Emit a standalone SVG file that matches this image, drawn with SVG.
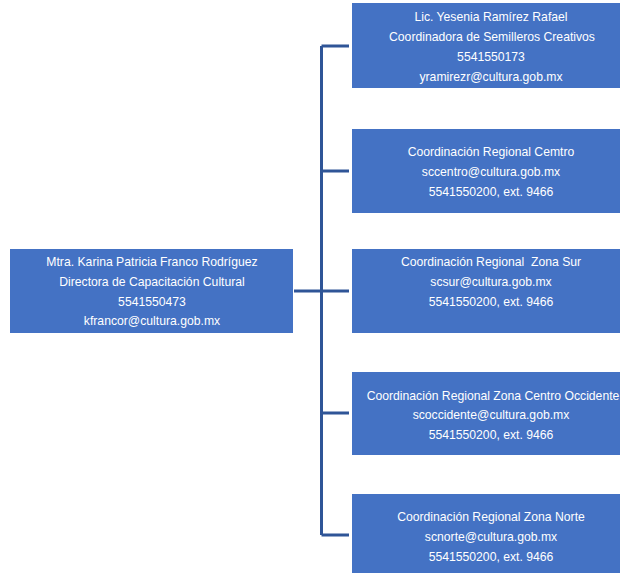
<svg xmlns="http://www.w3.org/2000/svg" width="621" height="573" viewBox="0 0 621 573">
<style>
.box{fill:#4472C4;}
.t{font-family:"Liberation Sans","DejaVu Sans",sans-serif;font-size:12.2px;fill:#ffffff;text-anchor:middle;white-space:pre;}
.c{stroke:#2F5597;stroke-width:3;fill:none;}
</style>
<rect width="621" height="573" fill="#ffffff"/>
<g id="connectors">
<path class="c" d="M294 291 H321.5 M321.5 46 V535 M321.5 46 H349 M321.5 171 H349 M321.5 291 H349 M321.5 413 H349 M321.5 535 H349"/>
</g>
<g id="director">
<rect class="box" x="10" y="249" width="283" height="84"/>
<text class="t" x="152" y="266">Mtra. Karina Patricia Franco Rodríguez</text>
<text class="t" x="152" y="286">Directora de Capacitación Cultural</text>
<text class="t" x="152" y="306">5541550473</text>
<text class="t" x="152" y="325">kfrancor@cultura.gob.mx</text>
</g>
<g id="semilleros">
<rect class="box" x="352" y="3" width="268" height="85"/>
<text class="t" x="491" y="21">Lic. Yesenia Ramírez Rafael</text>
<text class="t" x="492" y="41">Coordinadora de Semilleros Creativos</text>
<text class="t" x="491" y="61">5541550173</text>
<text class="t" x="491" y="81">yramirezr@cultura.gob.mx</text>
</g>
<g id="centro">
<rect class="box" x="352" y="129" width="268" height="84"/>
<text class="t" x="491" y="156">Coordinación Regional Cemtro</text>
<text class="t" x="491" y="176">sccentro@cultura.gob.mx</text>
<text class="t" x="491" y="196">5541550200, ext. 9466</text>
</g>
<g id="sur">
<rect class="box" x="352" y="249" width="268" height="84"/>
<text class="t" x="491" y="266" xml:space="preserve">Coordinación Regional  Zona Sur</text>
<text class="t" x="491" y="286">scsur@cultura.gob.mx</text>
<text class="t" x="491" y="306">5541550200, ext. 9466</text>
</g>
<g id="occidente">
<rect class="box" x="352" y="372" width="268" height="83"/>
<text class="t" x="493" y="400">Coordinación Regional Zona Centro Occidente</text>
<text class="t" x="491" y="419">scoccidente@cultura.gob.mx</text>
<text class="t" x="491" y="439">5541550200, ext. 9466</text>
</g>
<g id="norte">
<rect class="box" x="352" y="494" width="268" height="79"/>
<text class="t" x="491" y="521">Coordinación Regional Zona Norte</text>
<text class="t" x="491" y="541">scnorte@cultura.gob.mx</text>
<text class="t" x="491" y="561">5541550200, ext. 9466</text>
</g>
</svg>
